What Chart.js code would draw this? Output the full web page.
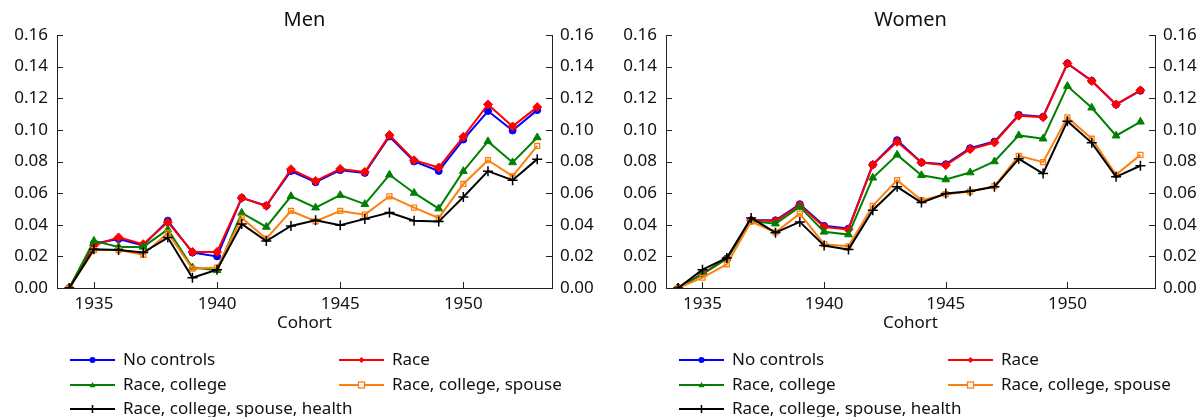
<!DOCTYPE html>
<html>
<head>
<meta charset="utf-8">
<script src="https://cdn.jsdelivr.net/npm/chart.js@4.4.0/dist/chart.umd.min.js"></script>
<style>
  html, body { margin: 0; padding: 0; background: #fff; }
  .panel { position: absolute; top: 0; width: 602px; height: 417px; }
  #menBox { left: 0; }
  #womenBox { left: 602px; }
</style>
</head>
<body>
<div class="panel" id="menBox"><canvas id="menChart"></canvas></div>
<div class="panel" id="womenBox"><canvas id="womenChart"></canvas></div>
<script>
var cohorts = [1934, 1935, 1936, 1937, 1938, 1939, 1940, 1941, 1942, 1943,
               1944, 1945, 1946, 1947, 1948, 1949, 1950, 1951, 1952, 1953];
var xTicks = [1935, 1940, 1945, 1950];
var yTicks = [0, 0.02, 0.04, 0.06, 0.08, 0.10, 0.12, 0.14, 0.16];
var seriesNames = ['No controls', 'Race', 'Race, college', 'Race, college, spouse', 'Race, college, spouse, health'];

// Men
var menNoControls = [0, 0.028, 0.031, 0.027, 0.0426, 0.0224, 0.020, 0.057, 0.052, 0.074, 0.0669, 0.0745, 0.0728, 0.0958, 0.080, 0.074, 0.0939, 0.1119, 0.0996, 0.1125];
var menRace = [0, 0.027, 0.032, 0.0277, 0.0416, 0.0228, 0.0228, 0.057, 0.052, 0.0751, 0.0677, 0.0753, 0.0734, 0.0967, 0.0808, 0.0762, 0.0956, 0.1161, 0.1022, 0.1144];
var menCollege = [0, 0.0298, 0.026, 0.026, 0.037, 0.0129, 0.0112, 0.0475, 0.0386, 0.058, 0.0508, 0.0587, 0.053, 0.0716, 0.0601, 0.0502, 0.0739, 0.0927, 0.0794, 0.0952];
var menSpouse = [0, 0.024, 0.024, 0.021, 0.0348, 0.0122, 0.0129, 0.0443, 0.0312, 0.0487, 0.0422, 0.0487, 0.0464, 0.058, 0.0508, 0.0443, 0.0658, 0.0808, 0.0707, 0.0899];
var menHealth = [0, 0.0245, 0.024, 0.0224, 0.0319, 0.0065, 0.0116, 0.0405, 0.0297, 0.0392, 0.0428, 0.0397, 0.0437, 0.0477, 0.0426, 0.042, 0.0576, 0.0739, 0.0682, 0.0815];

// Women
var womenNoControls = [0, 0.009, 0.0186, 0.0428, 0.0428, 0.053, 0.0393, 0.0376, 0.078, 0.0935, 0.0794, 0.0783, 0.0884, 0.0926, 0.1095, 0.1083, 0.142, 0.131, 0.116, 0.1248];
var womenRace = [0, 0.009, 0.0186, 0.0428, 0.0424, 0.0523, 0.0386, 0.037, 0.0779, 0.0925, 0.0794, 0.0777, 0.0878, 0.092, 0.109, 0.108, 0.142, 0.1309, 0.1161, 0.125];
var womenCollege = [0, 0.0087, 0.0186, 0.0424, 0.0407, 0.0513, 0.0355, 0.0338, 0.0697, 0.0842, 0.0713, 0.0686, 0.073, 0.080, 0.0965, 0.0944, 0.1277, 0.114, 0.0963, 0.1051];
var womenSpouse = [0, 0.0065, 0.015, 0.042, 0.0352, 0.047, 0.0277, 0.0264, 0.052, 0.0682, 0.0555, 0.0593, 0.061, 0.0644, 0.0836, 0.0796, 0.1079, 0.0944, 0.0716, 0.0842];
var womenHealth = [0, 0.0116, 0.019, 0.0443, 0.035, 0.0418, 0.0268, 0.0243, 0.0492, 0.064, 0.054, 0.0597, 0.0612, 0.064, 0.0817, 0.0724, 0.1055, 0.0918, 0.0703, 0.0773];

var FONT = '"Noto Sans", "Open Sans", sans-serif';
Chart.defaults.font.family = FONT;
Chart.defaults.font.size = 17;
Chart.defaults.color = '#111';

var styles = [
  { color: '#0000ff', point: 'circle', radius: 3.5, fill: '#0000ff', bw: 1 },
  { color: '#ff0000', point: 'rectRot', radius: 4.5, fill: '#ff0000', bw: 1 },
  { color: '#008000', point: 'triangle', radius: 4.5, fill: '#008000', bw: 1 },
  { color: '#ff7f0e', point: 'rect', radius: 3.5, fill: 'rgba(255,255,255,0)', bw: 1.3 },
  { color: '#000000', point: 'cross', radius: 5, fill: '#000000', bw: 1.5 }
];

function makeDatasets(lists) {
  return lists.map(function(vals, i) {
    var s = styles[i];
    return {
      label: seriesNames[i],
      data: cohorts.map(function(c, k) { return { x: c, y: vals[k] }; }),
      borderColor: s.color,
      borderWidth: 2,
      pointStyle: s.point,
      pointRadius: s.radius,
      pointBorderColor: s.color,
      pointBackgroundColor: s.fill,
      pointBorderWidth: s.bw,
      tension: 0,
      fill: false,
      order: 5 - i,
      xAxisID: 'x',
      yAxisID: 'y'
    };
  });
}

// tick marks pointing into the plot
var insideTicks = {
  id: 'insideTicks',
  afterDatasetsDraw: function(chart) {
    var ctx = chart.ctx, a = chart.chartArea;
    var y = chart.scales.y, x = chart.scales.x;
    ctx.save();
    ctx.strokeStyle = '#222';
    ctx.lineWidth = 1;
    ctx.beginPath();
    yTicks.forEach(function(v) {
      var py = Math.round(y.getPixelForValue(v)) + 0.5;
      ctx.moveTo(a.left, py); ctx.lineTo(a.left + 6, py);
      ctx.moveTo(a.right, py); ctx.lineTo(a.right - 6, py);
    });
    xTicks.forEach(function(v) {
      var px = Math.round(x.getPixelForValue(v)) + 0.5;
      ctx.moveTo(px, a.bottom); ctx.lineTo(px, a.bottom - 6);
    });
    ctx.stroke();
    ctx.restore();
  }
};

function drawMarker(ctx, style, cx, cy, r) {
  ctx.beginPath();
  if (style.point === 'circle') {
    ctx.arc(cx, cy, r, 0, Math.PI * 2);
    ctx.fillStyle = style.fill; ctx.fill();
  } else if (style.point === 'rectRot') {
    ctx.moveTo(cx, cy - r); ctx.lineTo(cx + r, cy); ctx.lineTo(cx, cy + r); ctx.lineTo(cx - r, cy); ctx.closePath();
    ctx.fillStyle = style.fill; ctx.fill();
  } else if (style.point === 'triangle') {
    ctx.moveTo(cx, cy - r); ctx.lineTo(cx + r, cy + r * 0.75); ctx.lineTo(cx - r, cy + r * 0.75); ctx.closePath();
    ctx.fillStyle = style.fill; ctx.fill();
  } else if (style.point === 'rect') {
    ctx.fillStyle = '#fff';
    ctx.fillRect(cx - r, cy - r, 2 * r, 2 * r);
    ctx.lineWidth = 1.3; ctx.strokeStyle = style.color;
    ctx.strokeRect(cx - r, cy - r, 2 * r, 2 * r);
  } else {
    ctx.lineWidth = 1.5; ctx.strokeStyle = style.color;
    ctx.moveTo(cx - r, cy); ctx.lineTo(cx + r, cy);
    ctx.moveTo(cx, cy - r); ctx.lineTo(cx, cy + r);
    ctx.stroke();
  }
}

// legend in two columns under the x axis
var bottomLegend = {
  id: 'bottomLegend',
  afterDraw: function(chart) {
    var ctx = chart.ctx, a = chart.chartArea;
    var cols = [a.left + 13, a.left + 282];
    var rows = [360, 385, 409];
    ctx.save();
    ctx.font = '17px ' + FONT;
    ctx.textBaseline = 'middle';
    chart.data.datasets.forEach(function(ds, i) {
      var x0 = cols[i % 2], y0 = rows[Math.floor(i / 2)];
      var s = styles[i];
      ctx.strokeStyle = s.color;
      ctx.lineWidth = 2;
      ctx.beginPath();
      ctx.moveTo(x0, y0); ctx.lineTo(x0 + 45, y0);
      ctx.stroke();
      drawMarker(ctx, s, x0 + 22.5, y0, s.point === 'cross' ? 4 : 3);
      ctx.fillStyle = '#111';
      ctx.fillText(ds.label, x0 + 53, y0);
    });
    ctx.restore();
  }
};

function makeChart(canvasId, title, lists, leftW, rightW) {
  var yCommon = {
    type: 'linear',
    min: 0,
    max: 0.16,
    afterBuildTicks: function(s) { s.ticks = yTicks.map(function(v) { return { value: v }; }); },
    grid: { display: true, drawOnChartArea: false, drawTicks: false },
    border: { display: true, color: '#222', width: 1 },
    ticks: { padding: 9, color: '#111', callback: function(v) { return Number(v).toFixed(2); } }
  };
  var yLeft = Object.assign({}, yCommon, { position: 'left', afterFit: function(s) { s.width = leftW; } });
  var yRight = Object.assign({}, yCommon, { position: 'right', afterFit: function(s) { s.width = rightW; } });
  yRight.ticks = Object.assign({}, yCommon.ticks, { padding: 8 });

  return new Chart(document.getElementById(canvasId), {
    type: 'line',
    data: { datasets: makeDatasets(lists) },
    options: {
      responsive: true,
      maintainAspectRatio: false,
      animation: false,
      layout: { padding: { left: 0, right: 0, top: 0, bottom: 79 } },
      plugins: {
        legend: { display: false },
        tooltip: { enabled: false },
        title: {
          display: true,
          text: title,
          fullSize: false,
          color: '#111',
          font: { size: 20, weight: 'normal' },
          padding: { top: 8, bottom: 3 }
        }
      },
      scales: {
        x: {
          type: 'linear',
          min: 1933.5,
          max: 1953.6,
          afterBuildTicks: function(s) { s.ticks = xTicks.map(function(v) { return { value: v }; }); },
          afterFit: function(s) { s.height = 50; },
          grid: { display: true, drawOnChartArea: false, drawTicks: false },
          border: { display: true, color: '#222', width: 1 },
          ticks: { padding: 6, color: '#111', maxRotation: 0, callback: function(v) { return String(v); } },
          title: { display: true, text: 'Cohort', color: '#111', font: { size: 17 }, padding: { top: 0, bottom: 5 } }
        },
        y: yLeft,
        y2: yRight
      }
    },
    plugins: [insideTicks, bottomLegend]
  });
}

makeChart('menChart', 'Men', [menNoControls, menRace, menCollege, menSpouse, menHealth], 57, 50);
makeChart('womenChart', 'Women', [womenNoControls, womenRace, womenCollege, womenSpouse, womenHealth], 64, 49);
</script>
</body>
</html>
